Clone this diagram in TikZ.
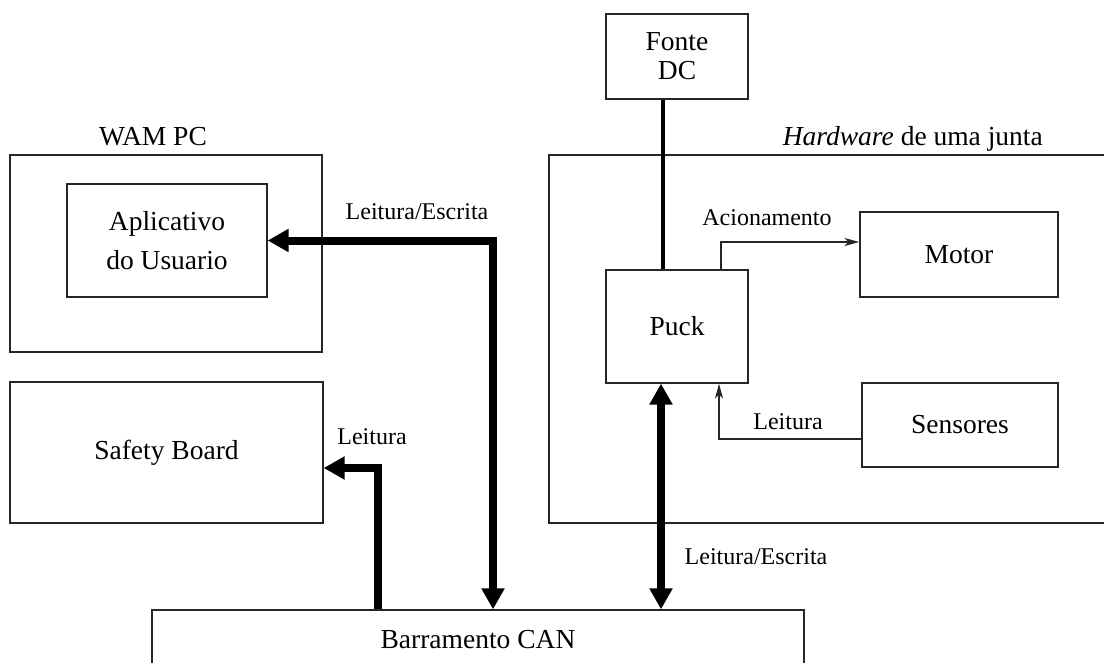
\documentclass[tikz,border=0pt]{standalone}
\usepackage{fontspec}
\setmainfont{Liberation Serif}
\usetikzlibrary{arrows.meta}
\begin{document}
\begin{tikzpicture}[x=1pt,y=-1pt,
  box/.style={draw=black!85, line width=1.3pt, inner sep=0pt, align=center,
              font=\fontsize{27.5}{31}\selectfont},
  title/.style={inner sep=0pt, font=\fontsize{27.5}{31}\selectfont},
  lbl/.style={inner sep=0pt, font=\fontsize{24}{28}\selectfont},
  bus/.style={line width=8pt, arrows={-Triangle[length=21pt,width=22pt]}},
  busboth/.style={line width=8pt, arrows={Triangle[length=21pt,width=22pt]-Triangle[length=21pt,width=22pt]}},
  sig/.style={draw=black!85, line width=1.3pt, arrows={-Stealth[length=15pt,width=8pt,inset=4pt]}}]
\useasboundingbox (0,0) rectangle (1104,662);
\clip (0,0) rectangle (1104,662);

% PC side
\node[box, minimum width=312, minimum height=197] (wam) at (166,253.5) {};
\node[title, anchor=base] (wamlbl) at (153,145) {WAM PC};
\node[box, minimum width=200, minimum height=113] (app) at (167,240.5) {Aplicativo\\[8pt]do Usuario};
\node[box, minimum width=313, minimum height=141] (safety) at (166.5,452.5) {Safety Board};

% CAN bus
\node[box, minimum width=652, minimum height=60] (can) at (478,640) {Barramento CAN};

% joint hardware
\node[box, minimum width=142, minimum height=85] (fonte) at (677,56.5) {Fonte\\[-2pt]DC};
\node[box, minimum width=571, minimum height=368] (hw) at (834.5,339) {};
\node[title, anchor=base east] (hwlbl) at (1043,145) {\textit{Hardware} de uma junta};
\node[box, minimum width=142, minimum height=113] (puck) at (677,326.5) {Puck};
\node[box, minimum width=198, minimum height=85] (motor) at (959,254.5) {Motor};
\node[box, minimum width=196, minimum height=84] (sens) at (960,425) {Sensores};

% routing points
\coordinate (pwr) at (663,0);
\coordinate (busA) at (493,0);
\coordinate (sfy) at (378,468);
\coordinate (pk) at (661,0);
\coordinate (ac) at (721,242);
\coordinate (le) at (719,439);

% connectors
\draw[line width=4pt] (fonte.south -| pwr) -- (puck.north -| pwr);
\draw[busboth] (app.east) -| (can.north -| busA);
\draw[bus] (can.north -| sfy) |- (safety.east |- sfy);
\draw[busboth] (puck.south -| pk) -- (can.north -| pk);
\draw[sig] (puck.north -| ac) |- (motor.west |- ac);
\draw[sig] (sens.west |- le) -| (puck.south -| le);

% labels
\node[lbl] (l1) at (417,212) {Leitura/Escrita};
\node[lbl] (l2) at (372,437) {Leitura};
\node[lbl] (l3) at (756,557) {Leitura/Escrita};
\node[lbl] (l4) at (767,218) {Acionamento};
\node[lbl] (l5) at (788,422) {Leitura};
\end{tikzpicture}
\end{document}
